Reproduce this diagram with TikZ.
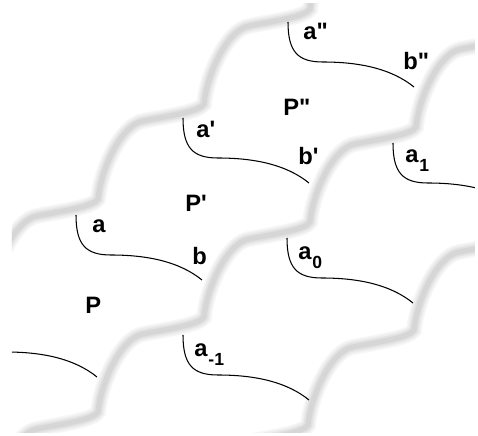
\documentclass[tikz,border=0pt]{standalone}
\usepackage{fontspec}
\usepackage{tikz}
\newfontfamily\lblfont{Liberation Sans}
\newcommand{\lowidx}[1]{\raisebox{-5pt}{\fontsize{10}{12}\selectfont\kern0.5pt #1}}

\begin{document}
\begin{tikzpicture}[x=0.02cm, y=-0.02cm,
  seam/.style={black, line width=0.6pt},
  lbl/.style={anchor=base west, inner sep=0pt, font=\lblfont\bfseries\fontsize{13.5}{16}\selectfont}]
\useasboundingbox (0,0) rectangle (478,436);
\clip (12,4) rectangle (475,433);

% Tile borders (soft grey), each started a few periods back
\coordinate (qA) at (-114,389);
\coordinate (qB) at (-8,507);
\coordinate (qC) at (96,615);
\foreach \w/\c in {9/7, 7/14, 5/23, 3/32} {
  \foreach \q in {qA, qB, qC}
    \draw[line width=\w pt, gray!\c, line cap=round] (\q)
      \foreach \k in {1,...,6} {
        .. controls +(3,-30) and +(-22,4) .. ++(45,-78)
        .. controls +(25,-5) and +(-5,8) .. ++(61,-17)
      };
}

% Curves a--b and their copies
\coordinate (sP) at (76,215);
\coordinate (sPp) at (183,118);
\coordinate (sPpp) at (288,22);
\coordinate (sA0) at (287,238);
\coordinate (sA1) at (393,143);
\coordinate (sAm) at (183,335);
\coordinate (sL) at (-29,312);
\foreach \s in {sP, sPp, sPpp, sA0, sA1, sAm, sL}
  \draw[seam] (\s) .. controls +(0,30) and +(-25,0) .. ++(35,40)
    .. controls +(40,0) and +(-21,-17) .. ++(91,25);

% Tiles
\node[lbl] (tP) at (85,314) {P};
\node[lbl] (tPp) at (185,212) {P'};
\node[lbl] (tPpp) at (283,115) {P"};

% End points
\node[lbl] (la) at (92,233) {a};
\node[lbl] (lb) at (192,265) {b};
\node[lbl] (lap) at (196,137) {a'};
\node[lbl] (lbp) at (298,165) {b'};
\node[lbl] (lapp) at (303,40) {a"};
\node[lbl] (lbpp) at (403,70) {b"};
\node[lbl] (la0) at (298,260) {a\lowidx{0}};
\node[lbl] (la1) at (405,163) {a\lowidx{1}};
\node[lbl] (lam) at (194,357) {a\lowidx{-1}};
\end{tikzpicture}
\end{document}
